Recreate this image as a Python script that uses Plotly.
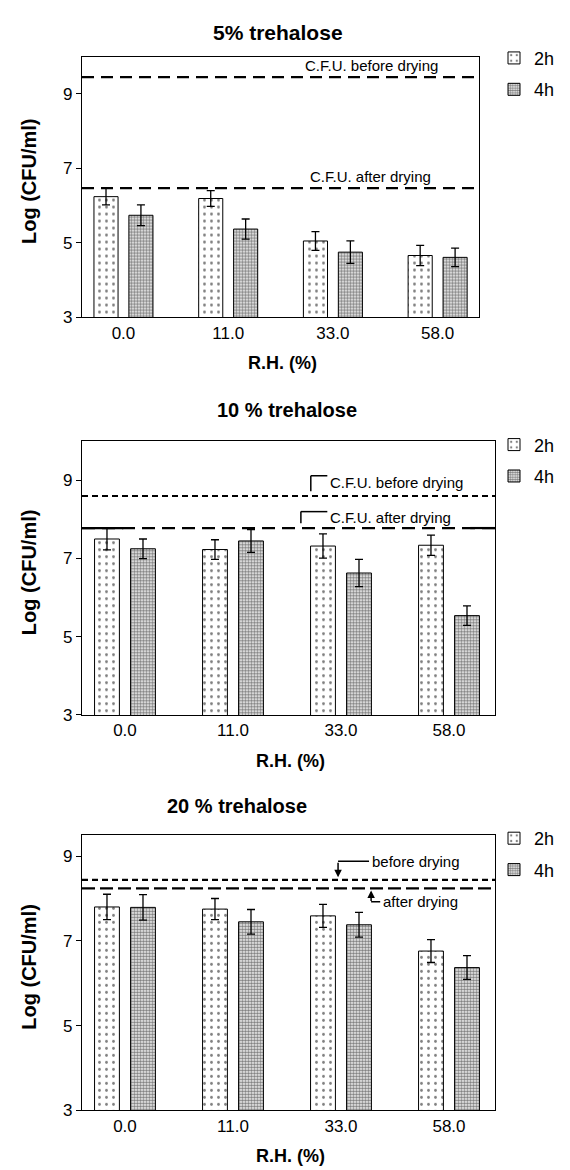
import plotly.graph_objects as go

# ---------------- data ----------------
categories = ["0.0", "11.0", "33.0", "58.0"]
series_names = ["2h", "4h"]
panel_titles = ["5% trehalose", "10 % trehalose", "20 % trehalose"]

t5_2h = [6.24, 6.19, 5.05, 4.66]
t5_2h_err = [0.22, 0.21, 0.25, 0.27]
t5_4h = [5.74, 5.37, 4.75, 4.61]
t5_4h_err = [0.28, 0.27, 0.30, 0.25]

t10_2h = [7.50, 7.23, 7.32, 7.34]
t10_2h_err = [0.28, 0.25, 0.31, 0.26]
t10_4h = [7.25, 7.45, 6.63, 5.54]
t10_4h_err = [0.25, 0.29, 0.35, 0.25]

t20_2h = [7.80, 7.75, 7.59, 6.76]
t20_2h_err = [0.30, 0.25, 0.27, 0.27]
t20_4h = [7.79, 7.45, 7.38, 6.37]
t20_4h_err = [0.30, 0.29, 0.29, 0.28]

cfu_before = [9.45, 8.60, 8.44]
cfu_after = [6.47, 7.78, 8.24]

# ---------------- layout helpers ----------------
W, H = 570, 1170
FONT = "Liberation Sans, Arial, sans-serif"

def px_x(p):
    return p / W

def px_y(p):
    return 1 - p / H

# panel geometry in pixels: (left, right, top, bottom), y range, x range
geo = [
    dict(l=74, r=471, t=49, b=312, yr=[3, 10], xr=[-0.396, 3.395]),
    dict(l=74, r=487, t=437, b=713, yr=[3, 10], xr=[-0.398, 3.426]),
    dict(l=74, r=487, t=834, b=1112, yr=[3, 9.5], xr=[-0.398, 3.426]),
]

values = [(t5_2h, t5_2h_err, t5_4h, t5_4h_err),
          (t10_2h, t10_2h_err, t10_4h, t10_4h_err),
          (t20_2h, t20_2h_err, t20_4h, t20_4h_err)]

pat_2h = dict(shape=".", fgcolor="black", bgcolor="white", size=7, solidity=0.13)
pat_4h = dict(shape=".", fgcolor="black", bgcolor="white", size=3, solidity=0.65)

fig = go.Figure()
annotations = []
shapes = []

legend_tops = [32, 422, 819]

for i, (g, vals) in enumerate(zip(geo, values)):
    sfx = "" if i == 0 else str(i + 1)
    xa, ya = "x" + sfx, "y" + sfx
    leg = "legend" + sfx
    v2, e2, v4, e4 = vals
    for name, v, e, pat in ((series_names[0], v2, e2, pat_2h), (series_names[1], v4, e4, pat_4h)):
        fig.add_trace(go.Bar(
            x=categories, y=v, name=name, xaxis=xa, yaxis=ya, legend=leg,
            legendgroup=name + sfx,
            base=0,
            marker=dict(color="white", line=dict(color="black", width=1), pattern=pat),
            error_y=dict(type="data", array=e, visible=True, color="black", thickness=1.3, width=4),
        ))
    # axes
    fig.update_layout(**{
        "xaxis" + sfx: dict(domain=[px_x(g["l"]), px_x(g["r"])], anchor=ya, range=g["xr"],
                            type="category", showline=True, mirror=True, linecolor="black",
                            linewidth=1.2, ticks="", showgrid=False, zeroline=False,
                            tickfont=dict(family=FONT, size=17, color="black")),
        "yaxis" + sfx: dict(domain=[px_y(g["b"]), px_y(g["t"])], anchor=xa, range=g["yr"],
                            showline=True, mirror=True, linecolor="black", linewidth=1.2,
                            ticks="outside", ticklen=5, tickwidth=1.2, tickcolor="black",
                            tickvals=[3, 5, 7, 9], showgrid=False, zeroline=False,
                            tickfont=dict(family=FONT, size=17, color="black")),
        leg: dict(x=px_x(486), y=px_y(legend_tops[i]), xanchor="left", yanchor="top",
                  bgcolor="rgba(0,0,0,0)", tracegroupgap=5, itemwidth=30,
                  font=dict(family=FONT, size=18, color="black")),
    })
    # panel title
    tcx = [270, 279, 229][i]
    tcy = [25, 405, 805][i]
    annotations.append(dict(text=panel_titles[i], xref="paper", yref="paper",
                            x=px_x(tcx), y=px_y(tcy), showarrow=False,
                            xanchor="center", yanchor="middle",
                            font=dict(family=FONT, size=21 if i == 0 else 20, color="black", weight="bold")))
    # axis titles
    annotations.append(dict(text="R.H. (%)", xref="paper", yref="paper",
                            x=px_x((g["l"] + g["r"]) / 2 + 2), y=px_y(g["b"] + 46), showarrow=False,
                            xanchor="center", yanchor="middle",
                            font=dict(family=FONT, size=18, color="black", weight="bold")))
    annotations.append(dict(text="Log (CFU/ml)", xref="paper", yref="paper",
                            x=px_x(21), y=px_y((g["t"] + g["b"]) / 2 - 6), showarrow=False,
                            textangle=-90, xanchor="center", yanchor="middle",
                            font=dict(family=FONT, size=20, color="black", weight="bold")))

# ---------------- reference lines ----------------
xd = ["x domain", "x2 domain", "x3 domain"]
yd = ["y", "y2", "y3"]
dash_before = ["12px,7px", "6px,4px", "6px,4px"]
dash_after = ["12px,7px", "13px,7px", "13px,5px"]
for i in range(3):
    shapes.append(dict(type="line", xref=xd[i], yref=yd[i], x0=0, x1=1,
                       y0=cfu_before[i], y1=cfu_before[i],
                       line=dict(color="black", width=2.2, dash=dash_before[i])))
    shapes.append(dict(type="line", xref=xd[i], yref=yd[i], x0=0, x1=1,
                       y0=cfu_after[i], y1=cfu_after[i],
                       line=dict(color="black", width=2.2, dash=dash_after[i])))

ann_font = dict(family=FONT, size=15, color="black")

# top panel labels
annotations.append(dict(text="C.F.U. before drying", xref="x domain", yref="y",
                        x=0.73, y=9.76, showarrow=False, xanchor="center", yanchor="middle", font=ann_font))
annotations.append(dict(text="C.F.U. after drying", xref="x domain", yref="y",
                        x=0.726, y=6.79, showarrow=False, xanchor="center", yanchor="middle", font=ann_font))

# middle panel labels with brackets
annotations.append(dict(text="C.F.U. before drying", xref="x2 domain", yref="y2",
                        x=0.596, y=8.94, showarrow=False, xanchor="left", yanchor="middle", font=ann_font))
annotations.append(dict(text="C.F.U. after drying", xref="x2 domain", yref="y2",
                        x=0.596, y=8.06, showarrow=False, xanchor="left", yanchor="middle", font=ann_font))
br = dict(color="black", width=1.5)
shapes += [
    dict(type="line", xref="x2 domain", yref="y2", x0=0.554, x1=0.554, y0=8.72, y1=9.12, line=br),
    dict(type="line", xref="x2 domain", yref="y2", x0=0.554, x1=0.594, y0=9.12, y1=9.12, line=br),
    dict(type="line", xref="x2 domain", yref="y2", x0=0.530, x1=0.530, y0=7.90, y1=8.20, line=br),
    dict(type="line", xref="x2 domain", yref="y2", x0=0.530, x1=0.594, y0=8.20, y1=8.20, line=br),
    dict(type="line", xref="x2 domain", yref="y2", x0=0.94, x1=1.0, y0=cfu_after[1], y1=cfu_after[1], line=dict(color="black", width=2.2)),
    dict(type="line", xref="x2 domain", yref="y2", x0=0.0, x1=0.1, y0=cfu_after[1], y1=cfu_after[1], line=dict(color="black", width=2.2)),
]

# bottom panel labels with arrows
annotations.append(dict(text="before drying", xref="x3 domain", yref="y3",
                        x=0.697, y=8.88, showarrow=False, xanchor="left", yanchor="middle", font=ann_font))
annotations.append(dict(text="after drying", xref="x3 domain", yref="y3",
                        x=0.724, y=7.92, showarrow=False, xanchor="left", yanchor="middle", font=ann_font))
shapes += [
    dict(type="line", xref="x3 domain", yref="y3", x0=0.62, x1=0.695, y0=8.88, y1=8.88, line=br),
    dict(type="line", xref="x3 domain", yref="y3", x0=0.70, x1=0.722, y0=7.92, y1=7.92, line=br),
]
annotations.append(dict(text="", xref="x3 domain", yref="y3", x=0.62, y=8.50,
                        showarrow=True, ax=0, ay=-16, arrowhead=2, arrowsize=1, arrowwidth=1.5,
                        arrowcolor="black"))
annotations.append(dict(text="", xref="x3 domain", yref="y3", x=0.70, y=8.19,
                        showarrow=True, ax=0, ay=12, arrowhead=2, arrowsize=1, arrowwidth=1.5,
                        arrowcolor="black"))

fig.update_layout(
    width=W, height=H,
    margin=dict(l=0, r=0, t=0, b=0),
    paper_bgcolor="white", plot_bgcolor="white",
    barmode="group", bargap=0.333, bargroupgap=0.31,
    font=dict(family=FONT, color="black"),
    annotations=annotations, shapes=shapes,
    showlegend=True,
)

fig.write_html("out.html")
